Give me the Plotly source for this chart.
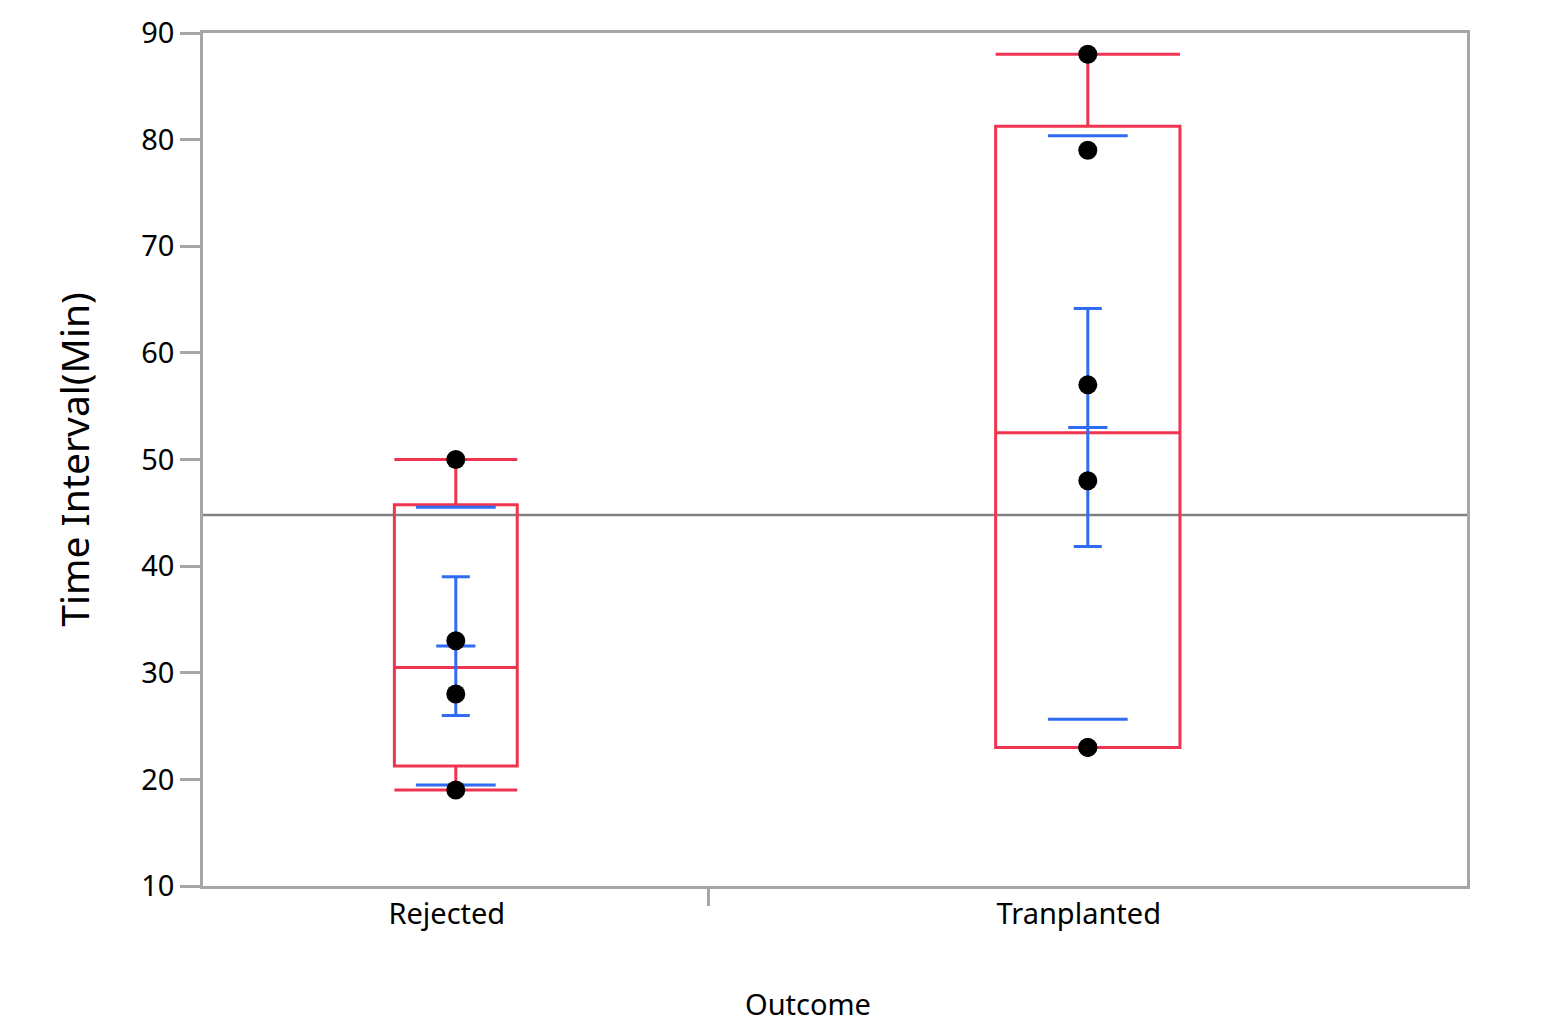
import numpy as np
import plotly.graph_objects as go

# ---- data ----
groups = ["Rejected", "Tranplanted"]
rejected_vals = [50, 33, 28, 19]
tranplanted_vals = [88, 79, 57, 48, 23, 23]
y_ticks = [10, 20, 30, 40, 50, 60, 70, 80, 90]

data = [rejected_vals, tranplanted_vals]

RED = "#EF3450"
BLUE = "#2F6CF2"
FRAME = "#A6A6A6"
FONT = "Noto Sans"

def jmp_quantile(v, p):
    s = sorted(v)
    n = len(s)
    r = (n + 1) * p
    lo = int(np.floor(r))
    frac = r - lo
    lo = max(1, min(n, lo))
    hi = max(1, min(n, lo + 1))
    return s[lo - 1] + frac * (s[hi - 1] - s[lo - 1])

counts = [len(d) for d in data]
total = sum(counts)
edges = np.cumsum([0] + counts) / total
centers = [(edges[i] + edges[i + 1]) / 2 for i in range(len(data))]
widths = [0.243 * (edges[i + 1] - edges[i]) for i in range(len(data))]

fig = go.Figure()

for i, d in enumerate(data):
    arr = np.array(d, dtype=float)
    q1 = jmp_quantile(d, 0.25)
    med = jmp_quantile(d, 0.5)
    q3 = jmp_quantile(d, 0.75)
    mean = arr.mean()
    sd = arr.std(ddof=1)
    se = sd / np.sqrt(len(arr))
    # box
    fig.add_trace(go.Box(
        x=[centers[i]], q1=[q1], median=[med], q3=[q3],
        lowerfence=[arr.min()], upperfence=[arr.max()],
        width=widths[i], whiskerwidth=1,
        line=dict(color=RED, width=3),
        fillcolor="rgba(0,0,0,0)", boxpoints=False,
        hoverinfo="skip", showlegend=False,
    ))
    # std dev lines
    fig.add_trace(go.Scatter(
        x=[centers[i], centers[i]], y=[mean - sd, mean + sd], mode="markers",
        marker=dict(symbol="line-ew", size=57, line=dict(color=BLUE, width=3)),
        showlegend=False, hoverinfo="skip",
    ))
    # mean error bars
    fig.add_trace(go.Scatter(
        x=[centers[i]], y=[mean], mode="markers",
        marker=dict(symbol="line-ew", size=28, line=dict(color=BLUE, width=3)),
        error_y=dict(type="data", array=[se], color=BLUE, thickness=3, width=14),
        showlegend=False, hoverinfo="skip",
    ))

# points
for i, d in enumerate(data):
    fig.add_trace(go.Scatter(
        x=[centers[i]] * len(d), y=d, mode="markers",
        marker=dict(color="black", size=19),
        showlegend=False,
    ))

grand_mean = float(np.mean(np.concatenate([np.array(d, float) for d in data])))
fig.add_shape(type="line", xref="paper", yref="y", x0=0, x1=1,
              y0=grand_mean, y1=grand_mean,
              line=dict(color="#808080", width=2.5), layer="below")

fig.add_annotation(text="Outcome", xref="paper", yref="paper", x=0.479, y=0,
                   xanchor="center", yanchor="middle", yshift=-117,
                   showarrow=False, font=dict(size=29, color="black"))

fig.update_layout(
    width=1567, height=1020,
    margin=dict(l=195, r=108, t=25, b=142),
    paper_bgcolor="white", plot_bgcolor="white",
    font=dict(family=FONT, color="black", size=29),
)
fig.update_xaxes(
    range=[0, 1], tickmode="array", tickvals=centers, ticktext=groups,
    ticks="", showgrid=False, zeroline=False, automargin=False,
    showline=True, mirror=True, linecolor=FRAME, linewidth=2.5,
    tickfont=dict(size=29), ticklabelshift=-9,
    minor=dict(tickmode="array", tickvals=[edges[1]], ticks="outside",
               ticklen=17, tickcolor=FRAME, tickwidth=2.5, showgrid=False),
)
fig.update_yaxes(
    range=[10, 90], tickmode="array", tickvals=y_ticks,
    ticks="outside", ticklen=20, tickcolor=FRAME, tickwidth=2.5,
    showgrid=False, zeroline=False, automargin=False,
    showline=True, mirror=True, linecolor=FRAME, linewidth=2.5,
    tickfont=dict(size=29),
    title=dict(text="Time Interval(Min)", font=dict(size=39), standoff=40),
)

fig.write_html("out.html")
